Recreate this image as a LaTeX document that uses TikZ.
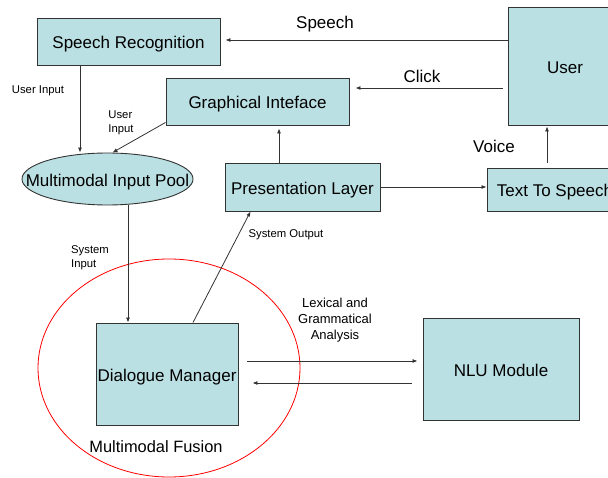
\documentclass[tikz,border=0pt]{standalone}
\usepackage{fontspec}
\setmainfont{Liberation Sans}
\usetikzlibrary{arrows.meta,shapes.geometric}
\definecolor{boxblue}{HTML}{BBE0E3}
\begin{document}
\begin{tikzpicture}[x=1pt,y=-1pt,
 box/.style={draw=black!80,fill=boxblue,line width=0.9pt,inner sep=0pt,text height=15pt,text depth=0pt,font=\fontsize{17}{20}\selectfont},
 big/.style={font=\fontsize{17}{20}\selectfont,inner sep=0pt,text height=15pt,text depth=0pt},
 small/.style={font=\fontsize{11.3}{13.5}\selectfont,align=left,inner sep=0pt},
 conn/.style={draw=black!80,line width=0.8pt,-{Latex[length=5pt,width=4pt]}}]
 \clip (0,0) rectangle (608,478);
 \node [draw=red,line width=0.8pt,ellipse,minimum width=262pt,minimum height=218pt] (fusion) at (169,368) {};
 \node [box,minimum width=183pt,minimum height=47pt] (sr) at (128.5,41.5) {Speech Recognition};
 \node [box,minimum width=114pt,minimum height=118pt] (user) at (565,66) {User};
 \node [box,minimum width=183pt,minimum height=47pt] (gi) at (257.5,101.5) {Graphical Inteface};
 \node [box,ellipse,minimum width=171pt,minimum height=52pt] (pool) at (107.5,179) {};
 \node [big] (pooltext) at (107.5,179) {Multimodal Input Pool};
 \node [box,minimum width=155pt,minimum height=48pt] (pl) at (302.5,187) {Presentation Layer};
 \node [box,minimum width=136pt,minimum height=43pt] (tts) at (555,189.5) {Text To Speech};
 \node [box,minimum width=142pt,minimum height=102pt] (dm) at (167,374) {Dialogue Manager};
 \node [box,minimum width=156pt,minimum height=102pt] (nlu) at (501,369) {NLU Module};
 \node [big] (speechlbl) at (325,21) {Speech};
 \node [big] (clicklbl) at (422,75) {Click};
 \node [big] (voicelbl) at (494,145) {Voice};
 \node [small] (uin1) at (38,90.5) {User Input};
 \node [small] (uin2) at (121,123) {User\\Input};
 \node [small] (sysin) at (90,257.5) {System\\Input};
 \node [small] (sysout) at (286,234.5) {System Output};
 \node [font=\fontsize{13}{16}\selectfont,align=center,inner sep=0pt] (lex) at (335,320) {Lexical and\\Grammatical\\Analysis};
 \node [font=\fontsize{16.4}{19}\selectfont,inner sep=0pt] (fusionlbl) at (156,446.5) {Multimodal Fusion};
 \draw [conn,shorten >=5pt] ([yshift=26pt]user.west) -- ([yshift=26pt]user.west -| sr.east);
 \draw [conn,shorten <=5pt,shorten >=6pt] ([yshift=-22pt]user.west) -- ([yshift=-22pt]user.west -| gi.east);
 \draw [conn] ([xshift=-48.5pt]sr.south) -- ([xshift=-48.5pt]sr.south |- pool.north);
 \draw [conn] ([yshift=3pt]gi.south west) -- ([xshift=5pt]pool.north);
 \draw [conn] ([xshift=20.5pt]pool.south) -- ([xshift=20.5pt]pool.south |- dm.north);
 \draw [conn] ([xshift=26pt]dm.north) -- ([xshift=26pt]pl.south west);
 \draw [conn,shorten >=3pt] ([xshift=-23.5pt]pl.north) -- ([xshift=-23.5pt]pl.north |- gi.south);
 \draw [conn] (pl.east) -- (pl.east -| tts.west);
 \draw [conn,shorten <=5pt,shorten >=1pt] ([xshift=-8pt]tts.north) -- ([xshift=-8pt]tts.north |- user.south);
 \draw [conn,shorten <=9pt,shorten >=5pt] ([yshift=13pt]dm.east) -- ([yshift=13pt]dm.east -| nlu.west);
 \draw [conn,shorten <=11pt,shorten >=14pt] ([yshift=-14pt]nlu.west) -- ([yshift=-14pt]nlu.west -| dm.east);
\end{tikzpicture}
\end{document}
